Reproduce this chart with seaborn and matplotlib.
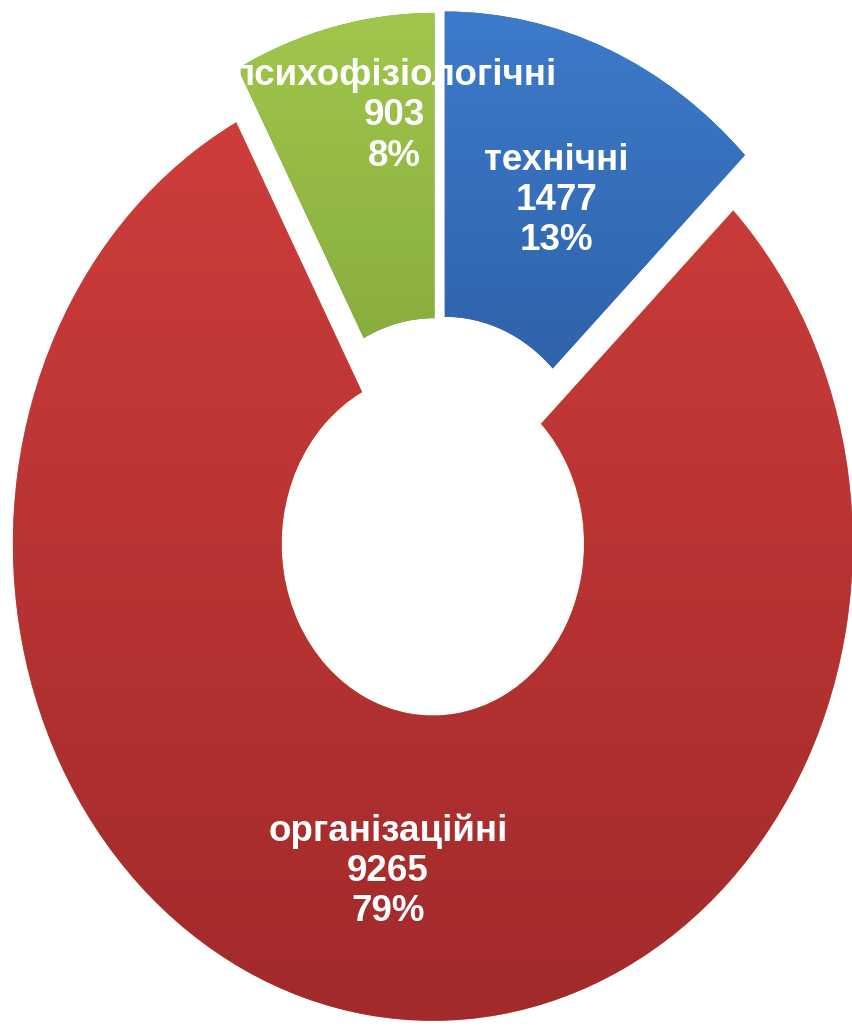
import numpy as np
import matplotlib
matplotlib.use("Agg")
import matplotlib.pyplot as plt
import seaborn as sns

# data
categories = ["технічні", "організаційні", "психофізіологічні"]
counts = [1477, 9265, 903]
percents = ["13%", "79%", "8%"]

# look
top_colors = ["#3c7bcb", "#cd3d3b", "#a0c64c"]
bottom_colors = ["#2b5a9e", "#a22a2b", "#7ea337"]
explode = [0.04, 0.08, 0.035]
label_r = [0.66, 0.695, 0.79]
label_shift = [-1, 0, -7]

sns.set_theme(style="white")
plt.rcParams["font.family"] = ["Liberation Sans", "DejaVu Sans"]

fig = plt.figure(figsize=(8.53, 10.27), dpi=100)
ax = fig.add_axes([0, 0, 1, 1])

wedges, _ = ax.pie(counts, startangle=90, counterclock=False, explode=explode,
                   radius=1.0, wedgeprops=dict(width=0.64, linewidth=0))

# vertical gradient inside every wedge, like the office chart fill
for w, c_top, c_bot in zip(wedges, top_colors, bottom_colors):
    verts = w.get_path().vertices
    x0, x1 = verts[:, 0].min(), verts[:, 0].max()
    y0, y1 = verts[:, 1].min(), verts[:, 1].max()
    cmap = sns.blend_palette([c_bot, c_top], as_cmap=True)
    grad = np.linspace(0, 1, 256).reshape(-1, 1)
    im = ax.imshow(grad, cmap=cmap, extent=[x0, x1, y0, y1], origin="lower",
                   aspect="auto", zorder=w.get_zorder() + 0.1, interpolation="bilinear")
    im.set_clip_path(w)

# labels: name, value, percent at the middle of each wedge (one text per line)
step = 29  # points between lines
for w, name, n, p, r, sh in zip(wedges, categories, counts, percents, label_r, label_shift):
    ang = np.deg2rad((w.theta1 + w.theta2) / 2 + sh)
    cx, cy = w.center
    xy = (cx + r * np.cos(ang), cy + r * np.sin(ang))
    for line, dy in zip([name, str(n), p], [step, 0, -step]):
        ax.annotate(line, xy, xytext=(0, dy), textcoords="offset points",
                    ha="center", va="center", color="white",
                    fontsize=26.5, fontweight="bold", zorder=10)

ax.set_aspect("auto")
ax.set_xlim(-1.043, 0.988)
ax.set_ylim(-1.092, 1.061)
ax.axis("off")

fig.savefig("out.png", dpi=100)
